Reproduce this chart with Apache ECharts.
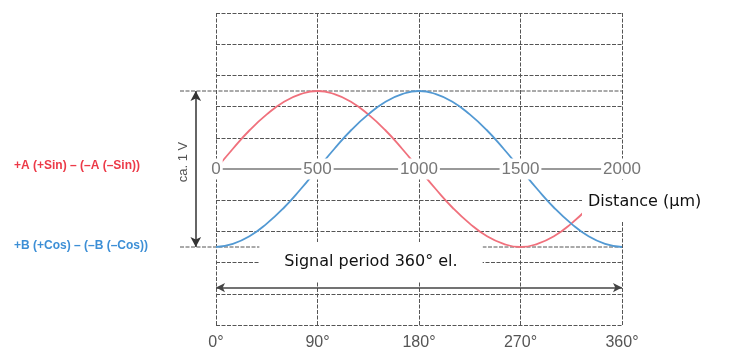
<!DOCTYPE html>
<html>
<head>
<meta charset="utf-8">
<script src="https://cdn.jsdelivr.net/npm/echarts@6/dist/echarts.min.js"></script>
<style>
html,body{margin:0;padding:0;background:#fff;}
#c{width:736px;height:354px;}
</style>
</head>
<body>
<div id="c"></div>
<script>
// ---- data ----
var angles = [0,15,30,45,60,75,90,105,120,135,150,165,180,195,210,225,240,255,270,285,300,315,330,345,360];
var sinSignal = [0,0.13,0.25,0.35,0.43,0.48,0.5,0.48,0.43,0.35,0.25,0.13,0,-0.13,-0.25,-0.35,-0.43,-0.48,-0.5,-0.48,-0.43,-0.35,-0.25];
var cosSignal = [-0.5,-0.48,-0.43,-0.35,-0.25,-0.13,0,0.13,0.25,0.35,0.43,0.48,0.5,0.48,0.43,0.35,0.25,0.13,0,-0.13,-0.25,-0.35,-0.43,-0.48,-0.5];
var degreeLabels = ['0°','90°','180°','270°','360°'];
var distanceLabels = ['0','500','1000','1500','2000'];
var ampLevels = [0.5, -0.5];        // ca. 1 V peak-to-peak
var periodLevel = -0.76;            // level of the signal-period arrow
var ampArrowX = -18;                // degrees (left of 0°) for the amplitude arrow
var ampLineStart = -32;

var sinPts = sinSignal.map(function(v,i){return [angles[i], v];});
var cosPts = cosSignal.map(function(v,i){return [angles[i], v];});

var gridDash = {color:'#555', type:[4,1.5], width:1};

var chart = echarts.init(document.getElementById('c'), null, {renderer:'canvas'});
var option = {
  animation:false,
  backgroundColor:'#fff',
  grid:[
    {left:216, right:114, top:13, bottom:29},
    {left:180, right:114, top:13, bottom:29},
    {left:216, right:114, top:13, bottom:185}
  ],
  xAxis:[
    {type:'value', gridIndex:0, min:0, max:360, interval:90,
     axisLine:{show:false, onZero:false}, axisTick:{show:false},
     splitLine:{show:true, lineStyle:gridDash},
     axisLabel:{margin:10, fontSize:16, color:'#555', fontFamily:'Liberation Sans, Arial',
       formatter:function(v){return degreeLabels[Math.round(v/90)];}}},
    {type:'value', gridIndex:2, min:0, max:2000, interval:500, position:'bottom', z:5,
     axisLine:{show:true, onZero:false, lineStyle:{color:'#999', width:2}},
     axisTick:{show:false}, splitLine:{show:false},
     axisLabel:{margin:0, verticalAlign:'middle', fontSize:17, color:'#777',
       fontFamily:'Liberation Sans, Arial', backgroundColor:'#fff', padding:[2,2],
       showMinLabel:true, showMaxLabel:true,
       formatter:function(v){return distanceLabels[Math.round(v/500)];}}},
    {type:'value', gridIndex:1, min:ampLineStart, max:360, show:false}
  ],
  yAxis:[
    {type:'value', gridIndex:0, min:-1, max:1, interval:0.2,
     axisLine:{show:false}, axisTick:{show:false}, axisLabel:{show:false},
     splitLine:{show:true, lineStyle:gridDash}},
    {type:'value', gridIndex:1, min:-1, max:1, show:false},
    {type:'value', gridIndex:2, min:0, max:1, show:false}
  ],
  series:[
    {type:'line', xAxisIndex:2, yAxisIndex:1, data:[[ampLineStart,ampLevels[0]],[360,ampLevels[0]]],
     symbol:'none', lineStyle:gridDash, silent:true, z:1},
    {type:'line', xAxisIndex:2, yAxisIndex:1, data:[[ampLineStart,ampLevels[1]],[360,ampLevels[1]]],
     symbol:'none', lineStyle:gridDash, silent:true, z:1,
     markLine:{silent:true, symbol:['arrow','arrow'], symbolSize:[8,10], label:{show:false},
       lineStyle:{type:'solid', color:'#333', width:1.5},
       data:[[{coord:[ampArrowX, ampLevels[0]]},{coord:[ampArrowX, ampLevels[1]]}]]}},
    {type:'line', xAxisIndex:0, yAxisIndex:0, data:sinPts, smooth:true, symbol:'none',
     lineStyle:{color:'#f0707c', width:1.8}, z:2,
     markLine:{silent:true, symbol:['arrow','arrow'], symbolSize:[7,9], label:{show:false},
       lineStyle:{type:'solid', color:'#444', width:1.5},
       data:[[{coord:[0, periodLevel]},{coord:[360, periodLevel]}]]}},
    {type:'line', xAxisIndex:0, yAxisIndex:0, data:cosPts, smooth:true, symbol:'none',
     lineStyle:{color:'#5299d3', width:1.8}, z:2}
  ],
  graphic:[
    {type:'text', left:14, top:160, z:100,
     style:{text:'+A (+Sin) – (–A (–Sin))', fill:'#ec3a48', font:'bold 12px "Liberation Sans", Arial'}},
    {type:'text', left:14, top:240, z:100,
     style:{text:'+B (+Cos) – (–B (–Cos))', fill:'#3d8fd6', font:'bold 12px "Liberation Sans", Arial'}},
    {type:'text', x:183, y:162, rotation:Math.PI/2, z:100,
     style:{text:'ca. 1 V', fill:'#555', font:'13px "Liberation Sans", Arial', align:'center', verticalAlign:'middle'}},
    {type:'text', x:371, y:262, z:100,
     style:{text:'Signal period 360° el.', fill:'#111', font:'16px "DejaVu Sans"', align:'center', verticalAlign:'middle',
       backgroundColor:'#fff', padding:[12,25,12,25]}},
    {type:'text', x:582, y:180, z:100,
     style:{text:'Distance (µm)', fill:'#111', font:'16px "DejaVu Sans"', align:'left', verticalAlign:'top',
       backgroundColor:'#fff', padding:[14,20,12,6]}}
  ]
};
chart.setOption(option);
</script>
</body>
</html>
